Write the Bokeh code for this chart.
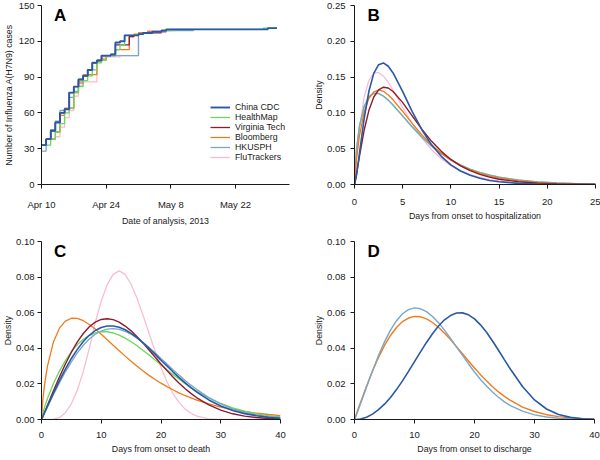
import pandas as pd
from bokeh.plotting import figure
from bokeh.models import (FixedTicker, NumeralTickFormatter, Label, Legend,
                          LegendItem, Range1d)
from bokeh.layouts import column, row
from bokeh.embed import file_html
from bokeh.resources import INLINE

FONT = "Liberation Sans"
INK = "#1a1a1a"

# ---------------- colours per source ----------------
C_CDC = "#2a58a8"
C_HM = "#6ad85a"
C_VT = "#8e1b2e"
C_BL = "#f07a1c"
C_HK = "#7aa7c7"
C_FT = "#f9bcd3"

# ---------------- Panel A: cumulative cases by date of analysis ----------------
base_date = "2013-04-10"
a_tick_dates = ["04-10", "04-24", "05-08", "05-22"]
a_tick_labels = ["Apr 10", "Apr 24", "May 8", "May 22"]
a_x_end = 53.7
a_y_ticks = [0, 30, 60, 90, 120, 150]

cdc_dates = ["04-10", "04-11", "04-12", "04-13", "04-14", "04-15", "04-16", "04-17",
             "04-18", "04-19", "04-20", "04-21", "04-22", "04-23", "04-25", "04-26",
             "04-27", "04-28", "05-01", "05-02", "05-04", "05-06", "05-07", "05-29", "05-31"]
cdc_cases = [33, 38, 45, 52, 60, 63, 77, 82, 88, 91, 96, 102, 104, 108, 109, 119,
             120, 125, 126, 127, 128, 129, 130, 131, 131]

hm_dates = ["04-10", "04-11", "04-12", "04-13", "04-14", "04-15", "04-16", "04-17",
            "04-18", "04-19", "04-20", "04-21", "04-22", "04-23", "04-24", "04-26",
            "04-27", "04-28", "05-01", "05-02", "05-04", "05-06", "05-08", "05-28", "05-31"]
hm_cases = [33, 33, 38, 44, 51, 60, 64, 77, 82, 87, 91, 96, 102, 104, 108, 113,
            117, 125, 126, 127, 128, 129, 130, 131, 131]

vt_dates = ["04-10", "04-11", "04-12", "04-13", "04-14", "04-15", "04-16", "04-17",
            "04-18", "04-19", "04-20", "04-21", "04-22", "04-23", "04-25", "04-26",
            "04-29", "04-30", "05-01", "05-02", "05-06"]
vt_cases = [33, 38, 45, 52, 60, 63, 77, 82, 88, 91, 96, 102, 104, 108, 109, 117,
            124, 125, 126, 127, 127]

bl_dates = ["04-10", "04-11", "04-13", "04-14", "04-15", "04-17", "04-18", "04-19",
            "04-22", "04-23", "04-24", "04-26", "04-29", "04-30", "05-01", "05-03", "05-07"]
bl_cases = [33, 38, 44, 58, 64, 77, 85, 92, 103, 105, 108, 113, 124, 126, 127, 128, 128]

hk_dates = ["04-10", "04-11", "04-12", "04-13", "04-14", "04-15", "04-16", "04-17",
            "04-18", "04-19", "04-20", "04-21", "04-22", "04-23", "05-01", "05-03",
            "05-07", "05-13"]
hk_cases = [28, 38, 46, 53, 62, 63, 73, 78, 86, 91, 96, 102, 104, 108, 127, 128, 129, 129]

ft_dates = ["04-10", "04-11", "04-13", "04-14", "04-15", "04-16", "04-17", "04-18",
            "04-19", "04-22", "04-23", "04-27", "05-01", "05-03", "05-09"]
ft_cases = [33, 38, 40, 48, 56, 62, 74, 83, 86, 104, 107, 108, 127, 129, 129]

# ---------------- Panel B: onset to hospitalization ----------------
b_days = [0, 0.2, 0.5, 1, 1.5, 2, 2.5, 3, 3.5, 4, 5, 6, 7, 8, 9, 10, 11, 12, 13, 14,
          15, 17, 19, 21, 23, 25]
b_cdc = [0, 0.0125, 0.0422, 0.0921, 0.1306, 0.1552, 0.1674, 0.1698, 0.1652, 0.1558,
         0.1297, 0.1015, 0.0762, 0.0554, 0.0394, 0.0275, 0.0189, 0.0128, 0.0086, 0.0057,
         0.0038, 0.0016, 0.0007, 0.0003, 0.0001, 0.0]
b_hm = [0, 0.0480, 0.0800, 0.1085, 0.1220, 0.1270, 0.1268, 0.1233, 0.1178, 0.1110,
        0.0958, 0.0805, 0.0663, 0.0539, 0.0433, 0.0346, 0.0275, 0.0216, 0.0170, 0.0133,
        0.0104, 0.0063, 0.0037, 0.0022, 0.0013, 0.0008]
b_vt = [0, 0.0133, 0.0383, 0.0758, 0.1038, 0.1222, 0.1323, 0.1359, 0.1347, 0.1299,
        0.1143, 0.0955, 0.0769, 0.0603, 0.0463, 0.0350, 0.0261, 0.0193, 0.0141, 0.0103,
        0.0074, 0.0038, 0.0019, 0.0009, 0.0005, 0.0002]
b_bl = [0, 0.0343, 0.0669, 0.1012, 0.1203, 0.1295, 0.1320, 0.1301, 0.1251, 0.1183,
        0.1020, 0.0850, 0.0691, 0.0553, 0.0436, 0.0340, 0.0263, 0.0203, 0.0155, 0.0118,
        0.0089, 0.0051, 0.0028, 0.0016, 0.0009, 0.0005]
b_hk = [0, 0.0486, 0.0807, 0.1093, 0.1227, 0.1277, 0.1273, 0.1236, 0.1179, 0.1109,
        0.0955, 0.0800, 0.0658, 0.0534, 0.0429, 0.0342, 0.0271, 0.0213, 0.0167, 0.0130,
        0.0102, 0.0061, 0.0036, 0.0021, 0.0013, 0.0007]
b_ft = [0, 0.0368, 0.0775, 0.1218, 0.1456, 0.1556, 0.1565, 0.1513, 0.1425, 0.1316,
        0.1076, 0.0846, 0.0648, 0.0486, 0.0360, 0.0263, 0.0191, 0.0137, 0.0098, 0.0069,
        0.0049, 0.0024, 0.0011, 0.0005, 0.0002, 0.0001]
b_x_ticks = [0, 5, 10, 15, 20, 25]
b_y_ticks = [0, 0.05, 0.10, 0.15, 0.20, 0.25]

# ---------------- Panel C: onset to death ----------------
cd_days = [0, 0.2, 0.5, 1, 2, 3, 4, 5, 6, 7, 8, 9, 10, 11, 12, 13, 14, 15, 16, 17, 18,
           19, 20, 21, 22, 23, 24, 25, 26, 28, 30, 32, 34, 36, 38, 40]
c_cdc = [0, 0.0015, 0.0038, 0.0075, 0.0148, 0.0218, 0.0283, 0.0343, 0.0394, 0.0438,
         0.0473, 0.0500, 0.0517, 0.0525, 0.0525, 0.0518, 0.0504, 0.0484, 0.0460, 0.0431,
         0.0400, 0.0367, 0.0333, 0.0301, 0.0268, 0.0237, 0.0207, 0.0179, 0.0154, 0.0110,
         0.0076, 0.0051, 0.0033, 0.0021, 0.0012, 0.0007]
c_hm = [0, 0.0033, 0.0068, 0.0118, 0.0202, 0.0272, 0.0331, 0.0381, 0.0421, 0.0451,
        0.0473, 0.0487, 0.0493, 0.0493, 0.0486, 0.0474, 0.0457, 0.0437, 0.0414, 0.0388,
        0.0362, 0.0334, 0.0307, 0.0279, 0.0253, 0.0227, 0.0202, 0.0179, 0.0158, 0.0121,
        0.0090, 0.0065, 0.0047, 0.0032, 0.0022, 0.0015]
c_vt = [0, 0.0015, 0.0039, 0.0080, 0.0161, 0.0239, 0.0312, 0.0378, 0.0436, 0.0483,
        0.0521, 0.0547, 0.0562, 0.0566, 0.0561, 0.0547, 0.0525, 0.0498, 0.0465, 0.0429,
        0.0390, 0.0351, 0.0312, 0.0275, 0.0239, 0.0205, 0.0174, 0.0147, 0.0122, 0.0082,
        0.0053, 0.0032, 0.0019, 0.0011, 0.0006, 0.0003]
c_bl = [0, 0.0102, 0.0193, 0.0300, 0.0436, 0.0513, 0.0553, 0.0569, 0.0568, 0.0555,
        0.0534, 0.0508, 0.0479, 0.0448, 0.0417, 0.0386, 0.0356, 0.0327, 0.0299, 0.0273,
        0.0248, 0.0225, 0.0204, 0.0185, 0.0167, 0.0150, 0.0135, 0.0122, 0.0109, 0.0088,
        0.0070, 0.0056, 0.0045, 0.0035, 0.0028, 0.0022]
c_hk = [0, 0.0014, 0.0035, 0.0071, 0.0140, 0.0206, 0.0268, 0.0324, 0.0374, 0.0417,
        0.0452, 0.0479, 0.0497, 0.0508, 0.0510, 0.0506, 0.0495, 0.0479, 0.0457, 0.0432,
        0.0404, 0.0375, 0.0343, 0.0312, 0.0280, 0.0250, 0.0221, 0.0193, 0.0168, 0.0123,
        0.0088, 0.0060, 0.0040, 0.0026, 0.0016, 0.0010]
c_ft = [0, 0, 0, 0, 0.0002, 0.0010, 0.0038, 0.0088, 0.0165, 0.0270, 0.0400, 0.0545,
        0.0665, 0.0758, 0.0815, 0.0835, 0.0815, 0.0760, 0.0680, 0.0585, 0.0485, 0.0385,
        0.0292, 0.0212, 0.0146, 0.0096, 0.0060, 0.0035, 0.0019, 0.0004, 0.0001, 0, 0, 0,
        0, 0]

# ---------------- Panel D: onset to discharge ----------------
d_hk = [0, 0.0016, 0.0042, 0.0088, 0.0181, 0.0273, 0.0359, 0.0436, 0.0502, 0.0555,
        0.0594, 0.0617, 0.0627, 0.0622, 0.0606, 0.0579, 0.0544, 0.0502, 0.0456, 0.0408,
        0.0360, 0.0312, 0.0267, 0.0225, 0.0188, 0.0154, 0.0125, 0.0099, 0.0078, 0.0047,
        0.0026, 0.0014, 0.0007, 0.0003, 0.0001, 0.0]
d_bl = [0, 0.0020, 0.0049, 0.0096, 0.0187, 0.0272, 0.0349, 0.0416, 0.0472, 0.0517,
        0.0550, 0.0570, 0.0579, 0.0577, 0.0565, 0.0545, 0.0518, 0.0485, 0.0449, 0.0409,
        0.0369, 0.0329, 0.0289, 0.0252, 0.0217, 0.0184, 0.0155, 0.0130, 0.0107, 0.0070,
        0.0045, 0.0027, 0.0016, 0.0009, 0.0005, 0.0002]
d_cdc = [0, 0, 0.0001, 0.0003, 0.0013, 0.0030, 0.0055, 0.0086, 0.0124, 0.0168, 0.0217,
         0.0270, 0.0325, 0.0380, 0.0433, 0.0482, 0.0525, 0.0560, 0.0584, 0.0598, 0.0599,
         0.0588, 0.0565, 0.0532, 0.0490, 0.0441, 0.0389, 0.0335, 0.0282, 0.0185, 0.0110,
         0.0059, 0.0028, 0.0012, 0.0004, 0.0001]
cd_x_ticks = [0, 10, 20, 30, 40]
cd_y_ticks = [0, 0.02, 0.04, 0.06, 0.08, 0.10]

series_names = ["China CDC", "HealthMap", "Virginia Tech", "Bloomberg", "HKUSPH", "FluTrackers"]


def to_days(dates):
    t0 = pd.Timestamp(base_date)
    return [(pd.Timestamp("2013-" + d) - t0).days for d in dates]


def make_fig(w, h, x_end, y_end, left, right, top, bottom, xlabel, ylabel,
             xticks, yticks, y_tick_standoff, ylab_standoff, x_tick_standoff, xlab_standoff):
    p = figure(width=w, height=h, x_range=Range1d(0, x_end), y_range=Range1d(0, y_end),
               output_backend="svg", toolbar_location=None, tools="",
               min_border_left=left, min_border_right=right,
               min_border_top=top, min_border_bottom=bottom)
    p.outline_line_color = None
    p.background_fill_color = "white"
    p.border_fill_color = "white"
    p.xgrid.visible = False
    p.ygrid.visible = False
    for ax in (p.xaxis[0], p.yaxis[0]):
        ax.axis_line_color = INK
        ax.axis_line_width = 1
        ax.major_tick_line_color = INK
        ax.major_tick_out = 4
        ax.major_tick_in = 0
        ax.minor_tick_line_color = None
        ax.major_label_text_font = FONT
        ax.major_label_text_font_size = "9.5px"
        ax.major_label_text_color = INK
        ax.axis_label_text_font = FONT
        ax.axis_label_text_font_size = "8.8px"
        ax.axis_label_text_font_style = "normal"
        ax.axis_label_text_color = INK
    p.xaxis[0].major_label_standoff = x_tick_standoff
    p.xaxis[0].axis_label_standoff = xlab_standoff
    p.yaxis[0].major_label_standoff = y_tick_standoff
    p.yaxis[0].axis_label_standoff = ylab_standoff
    p.xaxis[0].axis_label = xlabel
    p.yaxis[0].axis_label = ylabel
    p.xaxis[0].ticker = FixedTicker(ticks=xticks)
    p.yaxis[0].ticker = FixedTicker(ticks=yticks)
    return p


def letter(p, x, y, txt):
    p.add_layout(Label(x=x, y=y, text=txt, text_font=FONT, text_font_style="bold",
                       text_font_size="17px", text_color="black",
                       text_baseline="top", text_align="left"))


# ---------------- Panel A ----------------
a_ticks = to_days(a_tick_dates)
pA = make_fig(300, 230, a_x_end, 150, 39, 11, 5, 46, "Date of analysis, 2013",
              "Number of Influenza A(H7N9) cases", a_ticks, a_y_ticks, 3, 2, 10, 3)
pA.xaxis[0].major_label_overrides = {t: l for t, l in zip(a_ticks, a_tick_labels)}

a_series = {
    "FluTrackers": (ft_dates, ft_cases, C_FT, 1.3),
    "HKUSPH": (hk_dates, hk_cases, C_HK, 1.3),
    "Bloomberg": (bl_dates, bl_cases, C_BL, 1.3),
    "Virginia Tech": (vt_dates, vt_cases, C_VT, 1.3),
    "HealthMap": (hm_dates, hm_cases, C_HM, 1.3),
    "China CDC": (cdc_dates, cdc_cases, C_CDC, 1.9),
}
a_renderers = {}
for name, (dts, vals, col, lw) in a_series.items():
    a_renderers[name] = pA.step(to_days(dts), vals, mode="after", line_color=col,
                                line_width=lw)

legend = Legend(items=[LegendItem(label=n, renderers=[a_renderers[n]]) for n in series_names],
                location=(169, 22))
legend.glyph_width = 20
legend.glyph_height = 10
legend.label_height = 10
legend.label_width = 55
legend.label_standoff = 5
legend.spacing = -1
legend.padding = 0
legend.margin = 0
legend.border_line_color = None
legend.background_fill_alpha = 0
legend.label_text_font = FONT
legend.label_text_font_size = "8.8px"
legend.label_text_color = INK
pA.add_layout(legend)
letter(pA, 2.7, 150, "A")

# ---------------- Panel B ----------------
pB = make_fig(300, 230, 25, 0.25, 54, 5, 5, 46, "Days from onset to hospitalization",
              "Density", b_x_ticks, b_y_ticks, 5, 0, 10, 3)
pB.yaxis[0].formatter = NumeralTickFormatter(format="0.00")
for vals, col, lw in [(b_ft, C_FT, 1.3), (b_hm, C_HM, 1.3), (b_hk, C_HK, 1.3),
                      (b_bl, C_BL, 1.3), (b_vt, C_VT, 1.4), (b_cdc, C_CDC, 1.6)]:
    pB.line(b_days, vals, line_color=col, line_width=lw)
letter(pB, 1.35, 0.25, "B")

# ---------------- Panel C ----------------
pC = make_fig(300, 230, 40, 0.10, 39, 20, 11, 41, "Days from onset to death",
              "Density", cd_x_ticks, cd_y_ticks, 3, 0, 8, 3)
pC.yaxis[0].formatter = NumeralTickFormatter(format="0.00")
for vals, col, lw in [(c_ft, C_FT, 1.3), (c_bl, C_BL, 1.3), (c_hm, C_HM, 1.3),
                      (c_vt, C_VT, 1.4), (c_hk, C_HK, 1.3), (c_cdc, C_CDC, 1.6)]:
    pC.line(cd_days, vals, line_color=col, line_width=lw)
letter(pC, 2.1, 0.0995, "C")

# ---------------- Panel D ----------------
pD = make_fig(300, 230, 40, 0.10, 54, 6, 11, 41, "Days from onset to discharge",
              "Density", cd_x_ticks, cd_y_ticks, 5, 0, 8, 3)
pD.yaxis[0].formatter = NumeralTickFormatter(format="0.00")
for vals, col, lw in [(d_bl, C_BL, 1.4), (d_hk, C_HK, 1.4), (d_cdc, C_CDC, 1.6)]:
    pD.line(cd_days, vals, line_color=col, line_width=lw)
letter(pD, 2.17, 0.0995, "D")

layout = column(row(pA, pB), row(pC, pD))
open("out.html", "w").write(file_html(layout, INLINE, title="H7N9 analysis"))
